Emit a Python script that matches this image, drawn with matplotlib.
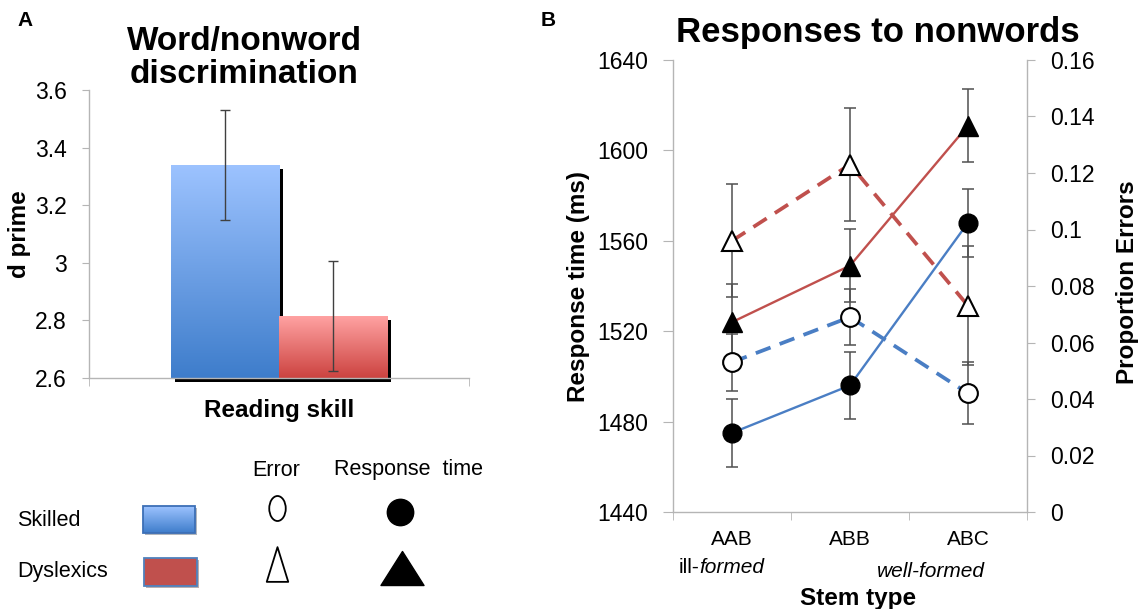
import matplotlib
matplotlib.use('Agg')
import matplotlib.pyplot as plt
import numpy as np
import matplotlib.patheffects as path_effects
from matplotlib.colors import LinearSegmentedColormap
from matplotlib.patches import Rectangle
from matplotlib.path import Path
from matplotlib.transforms import Affine2D
from matplotlib.ticker import FuncFormatter

plt.rcParams['font.family'] = ['Liberation Sans', 'DejaVu Sans']

# Panel A: d prime by reading skill
groups = ['Skilled', 'Dyslexics']
dprime = [3.34, 2.815]
dprime_err = [0.19, 0.19]

# Panel B: responses to nonwords by stem type
stems = ['AAB', 'ABB', 'ABC']
rt_skilled = [1475, 1496, 1568]
rt_skilled_err = [15, 15, 15]
rt_dyslexic = [1524, 1549, 1611]
rt_dyslexic_err = [17, 16, 16]
err_skilled = [0.053, 0.069, 0.042]
err_skilled_se = [0.010, 0.010, 0.011]
err_dyslexic = [0.096, 0.123, 0.073]
err_dyslexic_se = [0.020, 0.020, 0.021]

W, H = 1140, 609
fig = plt.figure(figsize=(W / 100, H / 100), dpi=100)


def box(l, t, r, b):
    # pixel box (left, top, right, bottom) -> figure fraction rect
    return [l / W, 1 - b / H, (r - l) / W, (b - t) / H]


blue = '#4A7EC4'
red = '#C0504D'
gray = '#B5B5B5'
ebar = '#505050'
bar_cmaps = [LinearSegmentedColormap.from_list('blu', ['#3E7DCB', '#9DC3FF']),
             LinearSegmentedColormap.from_list('rd', ['#CC4340', '#FFA2A2'])]
grad = np.linspace(0, 1, 256).reshape(-1, 1)
fmt_g = FuncFormatter(lambda v, p: '{:g}'.format(round(v, 4)))

# ---------------- Panel A ----------------
axA = fig.add_axes(box(89, 90, 469, 378))
bar_w = 0.285
xpos = np.array([-0.5, 0.5]) * bar_w
bars = axA.bar(xpos, np.array(dprime) - 2.6, bottom=2.6, width=bar_w,
               facecolor='none', edgecolor='none', zorder=1, clip_on=False)
for b, cm in zip(bars, bar_cmaps):
    b.set_path_effects([path_effects.SimplePatchShadow(offset=(2.8, -2.8),
                                                       shadow_rgbFace='black', alpha=1.0)])
    x0, y0 = b.get_x(), b.get_y()
    im = axA.imshow(grad, extent=[x0, x0 + b.get_width(), y0, y0 + b.get_height()],
                    origin='lower', cmap=cm, aspect='auto', zorder=2,
                    interpolation='bilinear')
    im.set_clip_path(b)
axA.errorbar(xpos, dprime, yerr=dprime_err, fmt='none', ecolor='#404040',
             elinewidth=1, capsize=3.5, capthick=1, zorder=3)
axA.set_xlim(-0.5, 0.5)
axA.set_ylim(2.6, 3.6)
axA.set_yticks(np.arange(2.6, 3.61, 0.2))
axA.yaxis.set_major_formatter(fmt_g)
axA.set_xticks([])
axA.set_xticks([-0.5, 0.5], minor=True)
for s in ['top', 'right']:
    axA.spines[s].set_visible(False)
for s in ['left', 'bottom']:
    axA.spines[s].set_color(gray)
    axA.spines[s].set_linewidth(1)
axA.tick_params(axis='y', labelsize=16.5, length=5, color=gray, pad=11)
axA.tick_params(axis='x', which='minor', length=6, color=gray)

# ---------------- Panel B ----------------
axB = fig.add_axes(box(673, 60, 1027, 512))
axE = axB.twinx()
xs = np.arange(len(stems))

axB.errorbar(xs, rt_skilled, yerr=rt_skilled_err, fmt='none', ecolor=ebar,
             elinewidth=1.1, capsize=4, capthick=1.1, zorder=2)
axB.errorbar(xs, rt_dyslexic, yerr=rt_dyslexic_err, fmt='none', ecolor=ebar,
             elinewidth=1.1, capsize=4, capthick=1.1, zorder=2)
axB.plot(xs, rt_skilled, color=blue, lw=1.7, marker='o', ms=13.5,
         mfc='black', mec='black', zorder=3)
axB.plot(xs, rt_dyslexic, color=red, lw=1.7, marker='^', ms=14,
         mfc='black', mec='black', zorder=3)

axE.errorbar(xs, err_skilled, yerr=err_skilled_se, fmt='none', ecolor=ebar,
             elinewidth=1.1, capsize=4, capthick=1.1, zorder=2)
axE.errorbar(xs, err_dyslexic, yerr=err_dyslexic_se, fmt='none', ecolor=ebar,
             elinewidth=1.1, capsize=4, capthick=1.1, zorder=2)
axE.plot(xs, err_skilled, color=blue, lw=2.7, dashes=(4.2, 2.6), marker='o',
         ms=13.5, mfc='white', mec='black', mew=1.5, zorder=3)
axE.plot(xs, err_dyslexic, color=red, lw=2.7, dashes=(4.2, 2.6), marker='^',
         ms=14, mfc='white', mec='black', mew=1.5, zorder=3)

axB.set_xlim(-0.5, 2.5)
axB.set_ylim(1440, 1640)
axB.set_yticks(np.arange(1440, 1641, 40))
axE.set_ylim(0, 0.16)
axE.set_yticks(np.arange(0, 0.161, 0.02))
axE.yaxis.set_major_formatter(fmt_g)
axB.set_xticks(xs)
axB.set_xticklabels(stems)
axB.set_xticks([-0.5, 0.5, 1.5, 2.5], minor=True)

for ax in (axB, axE):
    ax.spines['top'].set_visible(False)
axB.spines['right'].set_visible(False)
axE.spines['left'].set_visible(False)
axE.spines['bottom'].set_visible(False)
for sp in (axB.spines['left'], axB.spines['bottom'], axE.spines['right']):
    sp.set_color(gray)
    sp.set_linewidth(1)
axB.tick_params(axis='y', labelsize=16.5, length=7, color=gray, pad=11)
axE.tick_params(axis='y', labelsize=16.5, length=6, color=gray, pad=11)
axB.tick_params(axis='x', which='major', labelsize=15, length=0, pad=13)
axB.tick_params(axis='x', which='minor', length=6, color=gray)

# ---------------- overlay: titles, labels, legend ----------------
ov = fig.add_axes([0, 0, 1, 1])
ov.set_xlim(0, W)
ov.set_ylim(H, 0)
ov.axis('off')

ov.text(25, 21, 'A', fontsize=15, fontweight='bold', ha='center', va='center')
ov.text(548, 20, 'B', fontsize=15, fontweight='bold', ha='center', va='center')
ov.text(244, 83, 'Word/nonword\ndiscrimination', fontsize=24, fontweight='bold',
        ha='center', va='baseline', linespacing=1.1)
ov.text(878, 42, 'Responses to nonwords', fontsize=25, fontweight='bold',
        ha='center', va='baseline')
ov.text(20, 234, 'd prime', fontsize=17.5, fontweight='bold', rotation=90,
        ha='center', va='center')
ov.text(279, 417, 'Reading skill', fontsize=17.5, fontweight='bold',
        ha='center', va='baseline')
ov.text(579, 286, 'Response time (ms)', fontsize=17.5, fontweight='bold',
        rotation=90, ha='center', va='center')
ov.text(1116, 282, 'Proportion Errors', fontsize=17.5, fontweight='bold',
        rotation=90, ha='left', va='center')
ov.text(699, 573, 'ill-', fontsize=15, ha='right', va='baseline')
ov.text(699, 573, 'formed', fontsize=15, style='italic', ha='left', va='baseline')
ov.text(931, 577, 'well-formed', fontsize=15, style='italic', ha='center', va='baseline')
ov.text(858, 605, 'Stem type', fontsize=17.5, fontweight='bold', ha='center',
        va='baseline')

# legend block
ov.text(276, 470, 'Error', fontsize=15.5, ha='center', va='center')
ov.text(408, 470, 'Response  time', fontsize=15.5, ha='center', va='center')
ov.text(17, 520, groups[0], fontsize=15.5, ha='left', va='center')
ov.text(17, 572, groups[1], fontsize=15.5, ha='left', va='center')

shadow = [path_effects.SimplePatchShadow(offset=(1.5, -1.5), alpha=0.35),
          path_effects.Normal()]
r1 = Rectangle((143, 506), 52, 27, facecolor='#6A9BE0', edgecolor='none', zorder=2)
r1.set_path_effects(shadow)
ov.add_patch(r1)
im = ov.imshow(grad, extent=[143, 195, 533, 506], origin='lower', cmap=bar_cmaps[0],
               aspect='auto', zorder=3)
im.set_clip_path(r1)
ov.add_patch(Rectangle((143, 506), 52, 27, facecolor='none', edgecolor='#3C6FB6',
                       lw=1.3, zorder=4))
r2 = Rectangle((144, 558), 53, 27.5, facecolor=red, edgecolor='#4F81BD', lw=1.3, zorder=3)
r2.set_path_effects(shadow)
ov.add_patch(r2)

ellipse = Path.unit_circle().transformed(Affine2D().scale(0.66, 1.0))
narrow_tri = Path([(0, 1), (-0.62, -1), (0.62, -1), (0, 1)],
                  [Path.MOVETO, Path.LINETO, Path.LINETO, Path.CLOSEPOLY])
wide_tri = Path([(0, 0.79), (-1, -0.79), (1, -0.79), (0, 0.79)],
                [Path.MOVETO, Path.LINETO, Path.LINETO, Path.CLOSEPOLY])
ov.plot([277], [508], ls='none', marker=ellipse, ms=18, mfc='white', mec='black', mew=1.3)
ov.plot([277], [564], ls='none', marker=narrow_tri, ms=25, mfc='white', mec='black', mew=1.3)
ov.plot([400], [512], ls='none', marker='o', ms=19, mfc='black', mec='black')
ov.plot([402], [568], ls='none', marker=wide_tri, ms=31, mfc='black', mec='black')
ov.set_xlim(0, W)
ov.set_ylim(H, 0)

fig.savefig('out.png', dpi=100)
